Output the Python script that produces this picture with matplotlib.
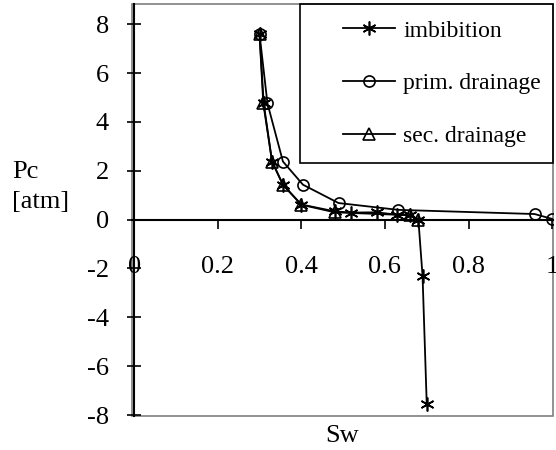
import numpy as np
import matplotlib
matplotlib.use('Agg')
import matplotlib.pyplot as plt
from matplotlib.patches import Rectangle

plt.rcParams['font.family'] = ['Liberation Serif', 'DejaVu Serif']
plt.rcParams['axes.unicode_minus'] = False

## data
sw_imb = [0.30, 0.31, 0.33, 0.356, 0.40, 0.48, 0.52, 0.58, 0.63, 0.66, 0.68, 0.69, 0.70]
pc_imb = [7.6, 4.76, 2.38, 1.43, 0.62, 0.34, 0.29, 0.30, 0.20, 0.20, 0.0, -2.31, -7.55]

sw_pd = [0.30, 0.319, 0.356, 0.404, 0.489, 0.632, 0.958, 1.0]
pc_pd = [7.6, 4.76, 2.38, 1.43, 0.68, 0.40, 0.23, 0.03]

sw_sd = [0.30, 0.309, 0.33, 0.356, 0.40, 0.48, 0.66, 0.68]
pc_sd = [7.6, 4.76, 2.38, 1.43, 0.61, 0.30, 0.18, 0.0]

xticks = [0, 0.2, 0.4, 0.6, 0.8, 1]
xticklabels = ['0', '0.2', '0.4', '0.6', '0.8', '1']
yticks = [-8, -6, -4, -2, 0, 2, 4, 6, 8]

W, H = 556, 450
fig = plt.figure(figsize=(W / 100, H / 100), dpi=100)
ax = fig.add_axes([132 / W, 34 / H, 421 / W, 412 / H])

ax.plot(sw_imb, pc_imb, color='black', lw=1.3, marker=(6, 2, 0), ms=10,
        mew=1.2, label='imbibition')
ax.plot(sw_pd, pc_pd, color='black', lw=1.3, marker='o', ms=8,
        mfc='none', mew=1.2, label='prim. drainage')
ax.plot(sw_sd, pc_sd, color='black', lw=1.3, marker='^', ms=8,
        mfc='none', mew=1.2, label='sec. drainage')

ax.set_xlim(-0.005, 1.002)
ax.set_ylim(-8.04, 8.83)

## axes cross at zero, grey frame round the plot area
ax.spines['bottom'].set_position(('data', 0))
ax.spines['left'].set_position(('data', 0))
ax.spines['top'].set_visible(False)
ax.spines['right'].set_visible(False)
for s in ['bottom', 'left']:
    ax.spines[s].set_linewidth(1.5)
ax.add_patch(Rectangle((0, 0), 1, 1, transform=ax.transAxes, fill=False,
                       edgecolor='#7f7f7f', lw=1.2, clip_on=False))

ax.set_xticks(xticks)
ax.set_xticklabels(xticklabels)
ax.set_yticks(yticks)
ax.tick_params(axis='x', direction='out', length=6.5, width=1.2, pad=19.5, labelsize=19)
ax.tick_params(axis='y', direction='inout', length=10, width=1.2, pad=13, labelsize=19)

fig.text(12 / W, 1 - 172 / H, 'Pc', fontsize=19, va='center', ha='left')
fig.text(12 / W, 1 - 202 / H, '[atm]', fontsize=19, va='center', ha='left')
fig.text(342 / W, 1 - 436 / H, 'Sw', fontsize=19, va='center', ha='center')

## legend: no frame from matplotlib, box drawn by hand
fig.patches.append(Rectangle((300 / W, 1 - 163 / H), 253 / W, 159 / H,
                             transform=fig.transFigure, fill=False,
                             edgecolor='black', lw=1.2))
ax.legend(loc='upper left', bbox_to_anchor=(343 / W, 1 - 20 / H),
          bbox_transform=fig.transFigure, frameon=False, fontsize=17,
          handlelength=2.2, handletextpad=0.35, labelspacing=1.32,
          borderpad=0, borderaxespad=0)

plt.savefig('out.png', dpi=100)
